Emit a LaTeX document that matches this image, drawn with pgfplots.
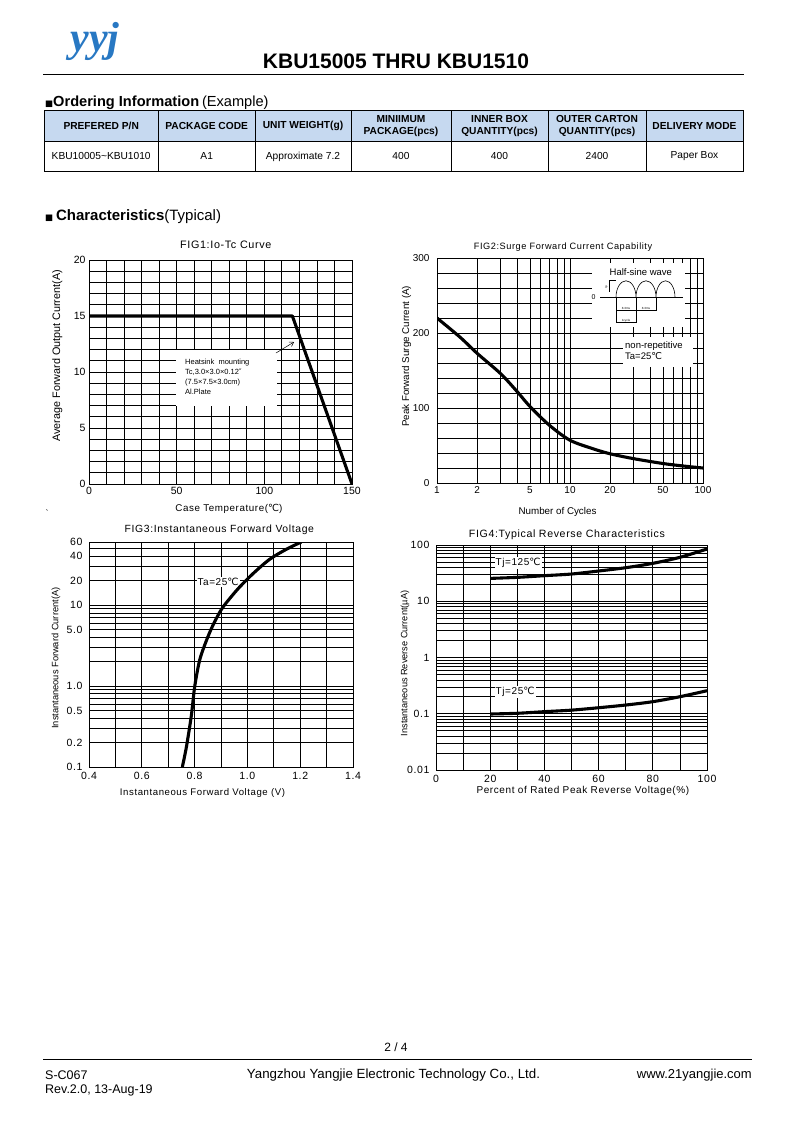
\documentclass[border=0pt]{standalone}
\usepackage{fontspec}
\setmainfont{Liberation Sans}
\newfontfamily\djv{DejaVu Sans}
\newfontfamily\spc[LetterSpace=6]{Liberation Sans}
\newfontfamily\logofont{Liberation Serif}
\usepackage{pgfplots}
\pgfplotsset{compat=1.18}
\usetikzlibrary{arrows.meta}
\definecolor{hdrblue}{RGB}{198,217,240}
\definecolor{logoblue}{RGB}{40,120,195}
\newcommand{\degc}{{\djv ℃}}
\newcommand{\fs}[1]{\fontsize{#1}{#1}\selectfont}
\pgfplotsset{
  ds/.style={
    scale only axis, anchor=north west,
    axis line style={line width=0.9pt},
    grid=both,
    major grid style={draw=black, line width=0.75pt},
    minor grid style={draw=black, line width=0.75pt},
    major tick length=0pt, minor tick length=0pt,
    tick label style={font=\fs{10}},
    /pgf/number format/assume math mode=true,
    title style={font=\spc\fs{10}, anchor=center, yshift=-6pt},
    xlabel style={font=\spc\fs{9.8}, anchor=center},
    ylabel style={font=\fs{10}, anchor=center},
  },
  curve/.style={black, line width=3.1pt, line join=round},
}
\begin{document}
\begin{tikzpicture}
\fill[white] (0pt,0pt) rectangle (793pt,-1122pt);
% ---------- header ----------
\node[logoblue, font=\logofont\bfseries\itshape\fs{42}, anchor=base] at (95pt,-51pt) {yyj};
\node[font=\bfseries\fs{21}] at (396pt,-61pt) {KBU15005 THRU KBU1510};
\draw[line width=1.3pt] (43pt,-74.3pt) -- (744pt,-74.3pt);
\node[anchor=base west, inner sep=0pt] at (45pt,-106.5pt) {{\djv\fs{8.5}■}{\bfseries\fs{14.6}Ordering Information} {\fs{14.6}(Example)}};
% ---------- table ----------
\fill[hdrblue] (44pt,-110.7pt) rectangle (743pt,-141pt);
\draw[line width=0.9pt] (44pt,-110.7pt) rectangle (743pt,-171.7pt);
\draw[line width=0.9pt] (44pt,-141pt) -- (743pt,-141pt);
\foreach \x in {158.5,255,351,451,548,646} \draw[line width=0.9pt] (\x pt,-110.7pt) -- (\x pt,-171.7pt);
\begin{scope}[every node/.style={align=center, font=\bfseries\fontsize{10.2}{12}\selectfont}]
\node at (101.2pt,-125.9pt) {PREFERED P/N};
\node at (206.7pt,-125.9pt) {PACKAGE CODE};
\node at (303pt,-125.9pt) {UNIT WEIGHT(g)};
\node at (401pt,-125.9pt) {MINIIMUM\\PACKAGE(pcs)};
\node at (499.5pt,-125.9pt) {INNER BOX\\QUANTITY(pcs)};
\node at (597pt,-125.9pt) {OUTER CARTON\\QUANTITY(pcs)};
\node at (694.5pt,-125.9pt) {DELIVERY MODE};
\end{scope}
\begin{scope}[every node/.style={font=\fs{10.2}}]
\node at (101.2pt,-156.4pt) {KBU10005\textasciitilde KBU1010};
\node at (206.7pt,-156.4pt) {A1};
\node at (303pt,-156.4pt) {Approximate 7.2};
\node at (401pt,-156.4pt) {400};
\node at (499.5pt,-156.4pt) {400};
\node at (597pt,-156.4pt) {2400};
\node at (694.5pt,-156.4pt) {Paper Box};
\end{scope}
\node[anchor=base west, inner sep=0pt] at (45pt,-220pt) {{\djv\fs{8.5}■}\ {\bfseries\fs{15}Characteristics}{\fs{15}(Typical)}};
\node[font=\fs{9}] at (47pt,-513pt) {\textasciigrave};
% ---------- FIG1 ----------
\begin{axis}[ds, at={(89pt,-260pt)}, width=263pt, height=224pt,
  xmin=0, xmax=150, ymin=0, ymax=20,
  xtick={0,50,100,150}, minor xtick={10,20,30,40,60,70,80,90,110,120,130,140},
  ytick={0,5,10,15,20}, minor ytick={1,2,3,4,6,7,8,9,11,12,13,14,16,17,18,19},
  tick label style={font=\fs{10.5}},
  title={FIG1:Io-Tc Curve}, title style={font=\spc\fs{10.8}, at={(0.52,1.070)}},
  xlabel={Case Temperature(\degc)}, xlabel style={at={(axis description cs:0.532,-0.112)}},
  ylabel={Average Forward Output Current(A)}, ylabel style={font=\fs{10.8}, at={(axis description cs:-0.1205,0.572)}},
]
\addplot[black, line width=1.4pt] coordinates {(0,3) (150,3)};
\addplot[curve] coordinates {(0,15) (116,15) (150,0)};
\end{axis}
\fill[white] (176pt,-350pt) rectangle (277.3pt,-405.7pt);
\node[anchor=north west, align=left, font=\fontsize{7.5}{10}\selectfont, inner sep=0pt] at (185pt,-358.5pt) {Heatsink\ \ mounting\\Tc,3.0×3.0×0.12{\djv ″}\\(7.5×7.5×3.0cm)\\Al.Plate};
\draw[-{Straight Barb[length=4pt,width=5pt]}, line width=0.5pt] (276pt,-353pt) -- (294pt,-342pt);
% ---------- FIG2 ----------
\begin{axis}[ds, at={(437pt,-258pt)}, width=266pt, height=225pt,
  xmode=log, xmin=1, xmax=100, ymin=0, ymax=300,
  xtick={1,2,5,10,20,50,100}, xticklabels={1,2,5,10,20,50,100},
  minor xtick={3,4,6,7,8,9,30,40,60,70,80,90},
  ytick={0,100,200,300}, minor ytick={20,40,60,80,120,140,160,180,220,240,260,280},
  yticklabel style={xshift=-4pt},
  title={FIG2:Surge Forward Current Capability}, title style={font=\spc\fs{9.2}, at={(0.474,1.0476)}},
  xlabel={Number of Cycles}, xlabel style={font=\fs{9.8}, at={(axis description cs:0.453,-0.1276)}},
  ylabel={Peak Forward Surge Current (A)}, ylabel style={font=\fs{9.8}, at={(axis description cs:-0.114,0.563)}},
]
\addplot[curve, smooth] coordinates {(1,220) (1.5,194) (2,173) (3,146) (4,122) (5,102) (7,77) (10,57) (15,45.5) (20,39) (30,32.5) (50,26) (70,22.8) (100,20)};
\end{axis}
\fill[white] (592pt,-263pt) rectangle (685pt,-326.5pt);
\fill[white] (623pt,-337pt) rectangle (693pt,-367pt);
\node[font=\fs{9.5}] at (640.8pt,-272.3pt) {Half-sine wave};
\node[font=\fs{7}] at (593.5pt,-297.3pt) {0};
\draw[line width=0.6pt] (600pt,-297.3pt) -- (683pt,-297.3pt);
\draw[line width=0.6pt] (616pt,-297.3pt) arc[start angle=180,end angle=0,x radius=10pt,y radius=16.5pt] arc[start angle=180,end angle=0,x radius=10pt,y radius=16.5pt] arc[start angle=180,end angle=0,x radius=9.5pt,y radius=16.5pt];
\draw[line width=0.5pt] (609pt,-280.7pt) -- (616pt,-280.7pt);
\draw[line width=0.5pt] (609.5pt,-280.7pt) -- (609.5pt,-292pt);
\node[font=\fs{3}, rotate=90] at (606.5pt,-287pt) {Ip};
\draw[line width=0.5pt] (616pt,-297.3pt) -- (616pt,-323pt);
\draw[line width=0.5pt] (636pt,-297.3pt) -- (636pt,-323pt);
\draw[line width=0.5pt] (656pt,-297.3pt) -- (656pt,-311pt);
\draw[line width=0.5pt] (616pt,-310.7pt) -- (656pt,-310.7pt);
\draw[line width=0.5pt] (616pt,-322.7pt) -- (636pt,-322.7pt);
\node[font=\fs{3}] at (626pt,-308.7pt) {8.3ms};
\node[font=\fs{3}] at (646pt,-308.7pt) {8.3ms};
\node[font=\fs{3}] at (626pt,-320.7pt) {1cycle};
\node[anchor=north west, align=left, font=\fontsize{9.5}{11.6}\selectfont, inner sep=0pt] at (625pt,-341pt) {non-repetitive\\Ta=25\degc};
% ---------- FIG3 ----------
\begin{axis}[ds, at={(89pt,-542pt)}, width=264pt, height=225pt,
  xmin=0.4, xmax=1.4, ymode=log, ymin=0.1, ymax=60,
  xtick={0.4,0.6,0.8,1.0,1.2,1.4}, xticklabels={0.4,0.6,0.8,1.0,1.2,1.4},
  minor xtick={0.5,0.7,0.9,1.1,1.3},
  ytick={0.1,0.2,0.5,1,5,10,20,40,60}, yticklabels={0.1,0.2,0.5,1.0,5.0,10,20,40,60},
  minor ytick={0.3,0.4,0.6,0.7,0.8,0.9,2,3,4,6,7,8,9,30,50},
  tick label style={font=\spc\fs{10.5}}, yticklabel style={xshift=-3pt}, xticklabel style={yshift=-2pt},
  title={FIG3:Instantaneous Forward Voltage}, title style={font=\spc\fs{10.4}, at={(0.4936,1.053)}},
  xlabel={Instantaneous Forward Voltage (V)}, xlabel style={font=\spc\fs{9.6}, at={(axis description cs:0.43,-0.114)}},
  ylabel={Instantaneous Forward Current(A)}, ylabel style={font=\fs{9.3}, at={(axis description cs:-0.125,0.484)}},
]
\node[fill=white, inner sep=1pt, font=\spc\fs{10}] at (axis cs:0.889,19.2) {Ta=25\degc};
\addplot[curve, smooth] coordinates {(0.7535,0.1) (0.7687,0.175) (0.7876,0.43) (0.8003,0.98) (0.8192,2.09) (0.8444,3.62) (0.8697,5.65) (0.9013,8.8) (0.9328,12.0) (0.9707,16.7) (1.0212,24.4) (1.0843,36.7) (1.1475,48.8) (1.2043,60)};
\end{axis}
% ---------- FIG4 ----------
\begin{axis}[ds, at={(436pt,-545pt)}, width=271pt, height=225pt,
  xmin=0, xmax=100, ymode=log, ymin=0.01, ymax=100,
  xtick={0,20,40,60,80,100}, xticklabels={0,20,40,60,80,100}, minor xtick={10,30,50,70,90},
  ytick={0.01,0.1,1,10,100}, yticklabels={0.01,0.1,1,10,100},
  minor ytick={0.02,0.03,0.04,0.05,0.06,0.07,0.08,0.09,0.2,0.3,0.4,0.5,0.6,0.7,0.8,0.9,2,3,4,5,6,7,8,9,20,30,40,50,60,70,80,90},
  tick label style={font=\spc\fs{10.5}}, yticklabel style={xshift=-3pt}, xticklabel style={yshift=-2pt},
  title={FIG4:Typical Reverse Characteristics}, title style={font=\spc\fs{10.6}, at={(0.483,1.044)}},
  xlabel={Percent of Rated Peak Reverse Voltage(\%)}, xlabel style={font=\spc\fs{10}, at={(axis description cs:0.542,-0.092)}},
  ylabel={Instantaneous Reverse Current(µA)}, ylabel style={font=\fs{9.2}, at={(axis description cs:-0.114,0.474)}},
]
\node[fill=white, inner sep=1pt, font=\spc\fs{10}] at (axis cs:30.3,47.9) {Tj=125\degc};
\node[fill=white, inner sep=1pt, font=\spc\fs{10}] at (axis cs:29.2,0.244) {Tj=25\degc};
\addplot[curve, smooth] coordinates {(20,25.5) (30,26.6) (40,28.5) (50,30.5) (60,34.5) (70,39.5) (80,47.2) (90,60.4) (100,84.9)};
\addplot[curve, smooth] coordinates {(20,0.099) (30,0.102) (40,0.109) (50,0.116) (60,0.128) (70,0.143) (80,0.164) (90,0.201) (100,0.257)};
\end{axis}
% ---------- footer ----------
\node[font=\fs{12}] at (396pt,-1047pt) {2 / 4};
\draw[line width=0.9pt] (43pt,-1059pt) -- (752pt,-1059pt);
\node[anchor=west, font=\fs{12.5}, inner sep=0pt] at (45pt,-1075pt) {S-C067};
\node[anchor=west, font=\fs{12.5}, inner sep=0pt] at (45pt,-1090pt) {Rev.2.0, 13-Aug-19};
\node[font=\fs{13.3}, inner sep=0pt] at (393.5pt,-1075pt) {Yangzhou Yangjie Electronic Technology Co., Ltd.};
\node[anchor=east, font=\fs{13}, inner sep=0pt] at (752pt,-1075pt) {www.21yangjie.com};
\end{tikzpicture}
\end{document}
